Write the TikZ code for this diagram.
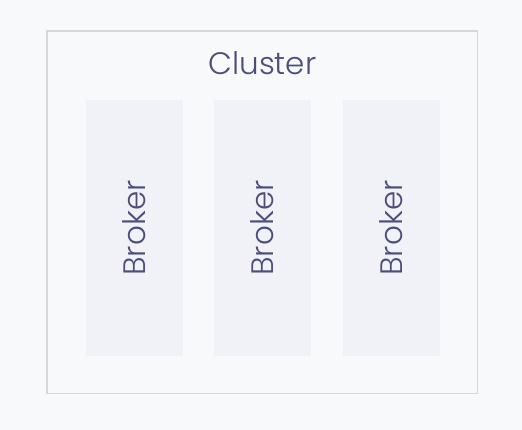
\documentclass[tikz,border=0pt]{standalone}
\usepackage{fontspec}
\setmainfont{Poppins}[UprightFont=* Light]
\definecolor{bg}{HTML}{F8F9FB}
\definecolor{frame}{HTML}{D6D8DF}
\definecolor{boxfill}{HTML}{F1F2F8}
\definecolor{ink}{HTML}{4B4E7C}
\begin{document}
\begin{tikzpicture}[x=1pt,y=-1pt,
  cluster/.style={draw=frame,line width=1.8pt,fill=bg},
  brokerbox/.style={fill=boxfill,draw=none,minimum width=97pt,minimum height=256pt,inner sep=0pt},
  brokertext/.style={text=ink,font=\fontsize{31}{36}\selectfont,rotate=90},
  title/.style={text=ink,font=\fontsize{31}{36}\selectfont}]
\fill[bg] (0,0) rectangle (522,430);
\useasboundingbox (0,0) rectangle (522,430);
\draw[cluster] (47,31) rectangle (477.5,393.5);
\node[title] (t) at (262.5,63) {Cluster};
\node[brokerbox] (b1) at (134,228) {};
\node[brokerbox] (b2) at (262.5,228) {};
\node[brokerbox] (b3) at (391,228) {};
\node[brokertext] (l1) at (b1) {Broker};
\node[brokertext] (l2) at (b2) {Broker};
\node[brokertext] (l3) at (b3) {Broker};
\end{tikzpicture}
\end{document}
